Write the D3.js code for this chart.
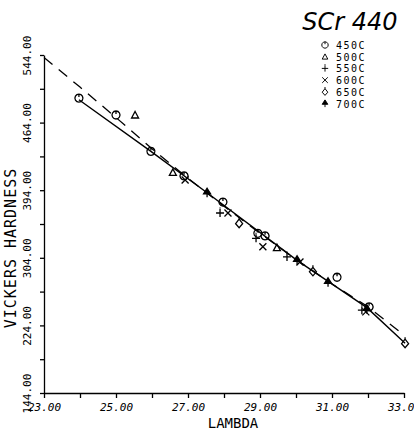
<!DOCTYPE html>
<meta charset="utf-8">
<style>
body { margin: 0; background: #fff; }
text { font-family: "DejaVu Sans Mono", monospace; fill: #000; }
.axis path, .axis line { stroke: #000; stroke-width: 1.3; }
</style>
<body>
<script src="https://cdn.jsdelivr.net/npm/d3@7"></script>
<script>

// data
var temps = ["450C", "500C", "550C", "600C", "650C", "700C"];
var lam450 = [23.97, 25.0, 25.97, 26.89, 27.97, 28.94, 29.14, 31.14, 32.03];
var hv450  = [493, 473, 430, 401, 370, 333, 330, 281, 246];
var lam500 = [25.53, 26.58, 29.47];
var hv500  = [473, 405, 316];
var lam550 = [27.89, 28.89, 29.75, 31.83];
var hv550  = [357, 327, 305, 242];
var lam600 = [26.92, 28.11, 29.08, 30.11, 31.94];
var hv600  = [396, 357, 317, 299, 240];
var lam650 = [28.42, 30.47, 33.03];
var hv650  = [345, 288, 203];
var lam700 = [27.53, 30.03, 30.89, 31.97];
var hv700  = [381, 301, 275, 243];

// fitted curves
var solidLam = [23.97, 25.97, 27.53, 30.03, 31.97, 33.03];
var solidHv  = [491, 430, 381, 301, 245, 203];
var dashLam  = [23, 24, 25, 26, 27, 28, 29, 30, 31, 32, 32.9];
var dashHv   = [541, 506, 470, 433, 398, 365, 333, 302, 273, 246, 216];

var xTicks = [23, 24, 25, 26, 27, 28, 29, 30, 31, 32, 33];
var xLabels = ["23.00", "", "25.00", "", "27.00", "", "29.00", "", "31.00", "", "33.00"];
var yTicks = [144, 184, 224, 264, 304, 344, 384, 424, 464, 504, 544];
var yLabels = ["144.00", "", "224.00", "", "304.00", "", "394.00", "", "464.00", "", "544.00"];

var width = 414, height = 433;

var svg = d3.select("body").append("svg")
    .attr("width", width)
    .attr("height", height);

var x = d3.scaleLinear().domain([23, 33]).range([44, 404]);
var y = d3.scaleLinear().domain([144, 544]).range([393, 55]);

// x axis
var xAxis = svg.append("g")
    .attr("class", "axis")
    .attr("transform", "translate(0,393)")
    .call(d3.axisBottom(x).tickValues(xTicks).tickSize(5).tickSizeOuter(0)
      .tickFormat(function(d, i) { return xLabels[i]; }));
xAxis.selectAll("text")
    .attr("y", 10)
    .style("font-size", "11px")
    .style("font-style", "italic");

// y axis
var yAxis = svg.append("g")
    .attr("class", "axis")
    .attr("transform", "translate(44,0)")
    .call(d3.axisLeft(y).tickValues(yTicks).tickSize(4).tickSizeOuter(0)
      .tickFormat(function(d, i) { return yLabels[i]; }));
yAxis.selectAll("text")
    .attr("x", 0).attr("dy", 0)
    .attr("text-anchor", "middle")
    .style("font-size", "11px")
    .attr("transform", "translate(-13,0) rotate(-90)");

// axis titles
svg.append("text")
    .attr("x", 233).attr("y", 428)
    .attr("text-anchor", "middle")
    .style("font-size", "14px")
    .text("LAMBDA");

svg.append("text")
    .attr("transform", "translate(16,248) rotate(-90)")
    .attr("text-anchor", "middle")
    .style("font-size", "15px")
    .style("letter-spacing", "1px")
    .text("VICKERS HARDNESS");

// handwritten label
svg.append("text")
    .attr("x", 350).attr("y", 30)
    .attr("text-anchor", "middle")
    .style("font-family", "'DejaVu Sans', sans-serif")
    .style("font-style", "italic")
    .style("font-weight", "200")
    .style("font-size", "24px")
    .text("SCr 440");

// curves
var line = d3.line()
    .x(function(d) { return x(d[0]); })
    .y(function(d) { return y(d[1]); });

svg.append("path")
    .datum(d3.zip(dashLam, dashHv))
    .attr("d", line)
    .attr("fill", "none")
    .attr("stroke", "#000")
    .attr("stroke-width", 1.3)
    .attr("stroke-dasharray", "11,8");

svg.append("path")
    .datum(d3.zip(solidLam, solidHv))
    .attr("d", line)
    .attr("fill", "none")
    .attr("stroke", "#000")
    .attr("stroke-width", 1.4);

// marker shapes
var marker = {
  "450C": { d: "M0,-4A4,4 0 1,1 -0.01,-4Z M0,-4V-1", fill: "none" },
  "500C": { d: "M0,-3.5L3.5,3L-3.5,3Z", fill: "none" },
  "550C": { d: "M-4,0H4M0,-4V4M0,-5.5V-4.5", fill: "none" },
  "600C": { d: "M-3.5,-3.5L3.5,3.5M-3.5,3.5L3.5,-3.5", fill: "none" },
  "650C": { d: "M0,-4L3.5,0.5L0,4.5L-3.5,0.5Z M0,-4V-6", fill: "none" },
  "700C": { d: "M0,-4.5L3.5,1L-3.5,1Z M0,1V4.5", fill: "#000" }
};

var series = [
  { t: "450C", lam: lam450, hv: hv450 },
  { t: "500C", lam: lam500, hv: hv500 },
  { t: "550C", lam: lam550, hv: hv550 },
  { t: "600C", lam: lam600, hv: hv600 },
  { t: "650C", lam: lam650, hv: hv650 },
  { t: "700C", lam: lam700, hv: hv700 }
];

series.forEach(function(s) {
  svg.append("g").selectAll("path")
      .data(d3.zip(s.lam, s.hv))
    .enter().append("path")
      .attr("transform", function(d) { return "translate(" + x(d[0]) + "," + y(d[1]) + ")"; })
      .attr("d", marker[s.t].d)
      .attr("fill", marker[s.t].fill)
      .attr("stroke", "#000")
      .attr("stroke-width", 1.3);
});

// legend
var legend = svg.append("g").selectAll("g")
    .data(temps)
  .enter().append("g")
    .attr("transform", function(d, i) { return "translate(325," + (45 + i * 11.7) + ")"; });

legend.append("path")
    .attr("d", function(d) { return marker[d].d; })
    .attr("fill", function(d) { return marker[d].fill; })
    .attr("stroke", "#000")
    .attr("stroke-width", 1.2)
    .attr("transform", "scale(0.8)");

legend.append("text")
    .attr("x", 11).attr("y", 4)
    .style("font-size", "10px")
    .style("letter-spacing", "1.5px")
    .text(function(d) { return d; });

</script>
</body>
